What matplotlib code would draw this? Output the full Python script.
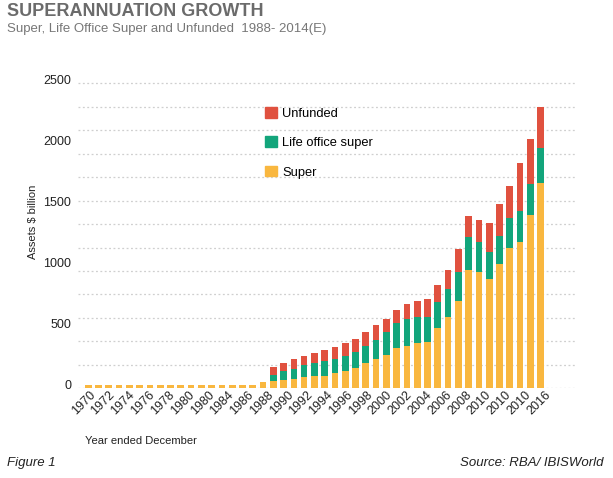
import matplotlib
matplotlib.use("Agg")
import matplotlib.pyplot as plt
import matplotlib.transforms as mtransforms
from matplotlib.patches import Patch
import numpy as np

plt.rcParams['font.family'] = ['Liberation Sans', 'DejaVu Sans']

# data ($ billion)
years = list(range(1970, 2015))
super_vals = [25] * 17 + [50,
              63, 66, 74, 93, 101, 104, 126, 145, 169, 210, 238, 276, 334,
              350, 375, 382, 492, 582, 716, 970, 956, 899, 1016, 1147, 1197,
              1424, 1686]
life_vals = [0] * 18 + [
             44, 79, 87, 101, 109, 117, 117, 117, 131, 140, 161, 188, 199,
             220, 207, 200, 216, 229, 240, 273, 246, 216, 233, 246, 253,
             253, 286]
unfunded_vals = [0] * 18 + [
                 68, 65, 82, 68, 77, 90, 93, 107, 104, 114, 117, 104, 106,
                 120, 134, 150, 139, 159, 183, 170, 178, 243, 261, 268, 399,
                 366, 335]

# tick labels as printed on the original chart
tick_labels = ['1970', '1972', '1974', '1976', '1978', '1980', '1980', '1984',
               '1986', '1988', '1990', '1992', '1994', '1996', '1998', '2000',
               '2002', '2004', '2006', '2008', '2010', '2010', '2010', '2016']
y_ticks = [0, 500, 1000, 1500, 2000, 2500]

c_super = '#F9B73F'
c_life = '#13A57B'
c_unf = '#E0513F'

fig = plt.figure(figsize=(6.13, 4.78), dpi=100)
ax = fig.add_axes([78 / 613, 1 - 388.3 / 478, 497 / 613, 306 / 478])

x = np.arange(len(years))
sup = np.array(super_vals)
life = np.array(life_vals)
unf = np.array(unfunded_vals)

w = 0.65
ax.bar(x, sup, w, color=c_super, zorder=2)
ax.bar(x, life, w, bottom=sup, color=c_life, zorder=2)
ax.bar(x, unf, w, bottom=sup + life, color=c_unf, zorder=2)

ax.set_xlim(-1.0, 47.35)
ax.set_ylim(0, 2508)

for s in ax.spines.values():
    s.set_visible(False)

# dotted gridlines, independent from the labels (as in the original)
ax.yaxis.remove_overlapping_locs = False
ax.set_yticks(np.linspace(0, 2500, 14), minor=True)
ax.grid(which='minor', axis='y', color='#cfcfcf', linestyle=(0, (1.5, 2)),
        linewidth=0.9, zorder=0)
ax.set_axisbelow(True)

ax.set_yticks(y_ticks)
ax.set_yticklabels([str(v) for v in y_ticks], fontsize=9, color='#222222')
ax.tick_params(axis='y', which='both', length=0, pad=5)
offset = mtransforms.ScaledTranslation(0, 0.04, fig.dpi_scale_trans)
for lab in ax.get_yticklabels():
    lab.set_transform(lab.get_transform() + offset)

ax.set_xticks(np.linspace(0.5, 44.8, len(tick_labels)))
ax.set_xticklabels(tick_labels, rotation=45, ha='right', va='center',
                   rotation_mode='anchor', fontsize=9, color='#222222')
ax.tick_params(axis='x', length=0, pad=3.5)

ax.set_ylabel('Assets $ billion', fontsize=8, color='#222222')
ax.yaxis.set_label_coords(-0.08, 0.545)
ax.set_xlabel('Year ended December', fontsize=8, color='#222222',
              ha='left', va='center')
ax.xaxis.set_label_coords(0.014, -0.173)

handles = [Patch(color=c_unf, label='Unfunded'),
           Patch(color=c_life, label='Life office super'),
           Patch(color=c_super, label='Super')]
ax.legend(handles=handles, loc='upper left',
          bbox_to_anchor=(265 / 613, 1 - 107 / 478),
          bbox_transform=fig.transFigure, frameon=False, fontsize=9.3,
          handlelength=0.9, handleheight=0.9, handletextpad=0.45,
          labelspacing=1.28, borderpad=0, borderaxespad=0)

fig.text(7 / 613, 1 - 12 / 478, 'SUPERANNUATION GROWTH', fontsize=13,
         fontweight='bold', color='#6b6b6b', va='center', ha='left')
fig.text(7 / 613, 1 - 29 / 478,
         'Super, Life Office Super and Unfunded  1988- 2014(E)',
         fontsize=9.5, color='#777777', va='center', ha='left')
fig.text(7 / 613, 1 - 463 / 478, 'Figure 1', fontsize=9.5, style='italic',
         color='#222222', va='center', ha='left')
fig.text(603 / 613, 1 - 463 / 478, 'Source: RBA/ IBISWorld', fontsize=9.5,
         style='italic', color='#222222', va='center', ha='right')

fig.savefig('out.png', dpi=100)
